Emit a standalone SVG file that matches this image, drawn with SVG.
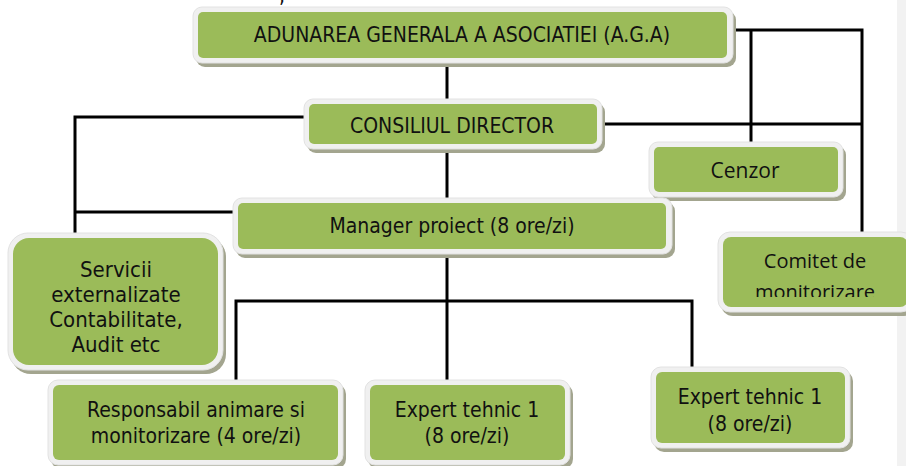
<svg xmlns="http://www.w3.org/2000/svg" width="906" height="466" viewBox="0 0 906 466">
<style>
.sh{fill:#a3a58f}
.bd{fill:#f0f0f0;stroke:#e2e2e2;stroke-width:1}
.gr{fill:#9bbb59}
.t{font-family:"DejaVu Sans Condensed","DejaVu Sans",sans-serif;font-stretch:condensed;font-size:21px;fill:#111;text-anchor:middle}
.s{font-size:22px}
.c{font-family:"Open Sans","Noto Sans",sans-serif;font-size:20px;fill:#111;text-anchor:middle}
.ln{fill:none;stroke:#000;stroke-width:3}
</style>
<defs>
<clipPath id="clipCom"><rect x="700" y="230" width="206" height="67"/></clipPath>
</defs>
<rect x="897" y="0" width="9" height="466" fill="#f2f2f2"/>
<text class="t" x="282" y="3">,</text>
<g id="connectors">
<path class="ln" d="M447,66 V100"/>
<path class="ln" d="M732,30 H862 V233"/>
<path class="ln" d="M751,30 V143"/>
<path class="ln" d="M602,124 H862"/>
<path class="ln" d="M304,117 H75 V234"/>
<path class="ln" d="M75,212 H234"/>
<path class="ln" d="M447,151 V198"/>
<path class="ln" d="M447,255 V381"/>
<path class="ln" d="M236,380 V301 H692 V368"/>
</g>
<g id="aga">
<rect class="sh" x="196" y="11" width="540" height="56" rx="9"/>
<rect class="bd" x="193" y="7" width="540" height="56" rx="9"/>
<rect class="gr" x="198" y="12" width="529" height="46" rx="5"/>
<text class="t" x="462" y="42">ADUNAREA GENERALA A ASOCIATIEI (A.G.A)</text>
</g>
<g id="consiliul">
<rect class="sh" x="307" y="103" width="298" height="50" rx="9"/>
<rect class="bd" x="304" y="99" width="298" height="50" rx="9"/>
<rect class="gr" x="309" y="104" width="288" height="40" rx="5"/>
<text class="t" x="452" y="133">CONSILIUL DIRECTOR</text>
</g>
<g id="cenzor">
<rect class="sh" x="652" y="146" width="194" height="55" rx="9"/>
<rect class="bd" x="649" y="142" width="194" height="55" rx="9"/>
<rect class="gr" x="654" y="147" width="184" height="45" rx="5"/>
<text class="c" style="font-size:21px" x="745" y="178">Cenzor</text>
</g>
<g id="manager">
<rect class="sh" x="236" y="202" width="439" height="56" rx="9"/>
<rect class="bd" x="233" y="198" width="439" height="56" rx="9"/>
<rect class="gr" x="238" y="203" width="428" height="46" rx="5"/>
<text class="t" x="452" y="233">Manager proiect (8 ore/zi)</text>
</g>
<g id="servicii">
<rect class="sh" x="11" y="237" width="215" height="137" rx="20"/>
<rect class="bd" x="8" y="233" width="215" height="137" rx="20"/>
<rect class="gr" x="13" y="238" width="205" height="127" rx="16"/>
<text class="t s" x="116" y="277">Servicii</text>
<text class="t s" x="116" y="302">externalizate</text>
<text class="t s" x="116" y="327">Contabilitate,</text>
<text class="t s" x="116" y="352">Audit etc</text>
</g>
<g id="comitet">
<rect class="sh" x="721" y="236" width="195" height="80" rx="12"/>
<rect class="bd" x="718" y="232" width="195" height="80" rx="12"/>
<rect class="gr" x="723" y="237" width="185" height="70" rx="8"/>
<g clip-path="url(#clipCom)">
<text class="c" x="815" y="268">Comitet de</text>
<text class="c" x="815" y="299">monitorizare</text>
</g>
</g>
<g id="responsabil">
<rect class="sh" x="51" y="384" width="295" height="85" rx="10"/>
<rect class="bd" x="48" y="380" width="295" height="85" rx="10"/>
<rect class="gr" x="53" y="385" width="285" height="75" rx="6"/>
<text class="t" x="196" y="417">Responsabil animare si</text>
<text class="t" x="196" y="443">monitorizare (4 ore/zi)</text>
</g>
<g id="expert1">
<rect class="sh" x="368" y="384" width="205" height="85" rx="10"/>
<rect class="bd" x="365" y="380" width="205" height="85" rx="10"/>
<rect class="gr" x="370" y="385" width="195" height="75" rx="6"/>
<text class="t" x="467" y="417">Expert tehnic 1</text>
<text class="t" x="467" y="443">(8 ore/zi)</text>
</g>
<g id="expert2">
<rect class="sh" x="654" y="371" width="199" height="81" rx="10"/>
<rect class="bd" x="651" y="367" width="199" height="81" rx="10"/>
<rect class="gr" x="656" y="372" width="189" height="71" rx="6"/>
<text class="t" x="750" y="404">Expert tehnic 1</text>
<text class="t" x="750" y="431">(8 ore/zi)</text>
</g>
</svg>
